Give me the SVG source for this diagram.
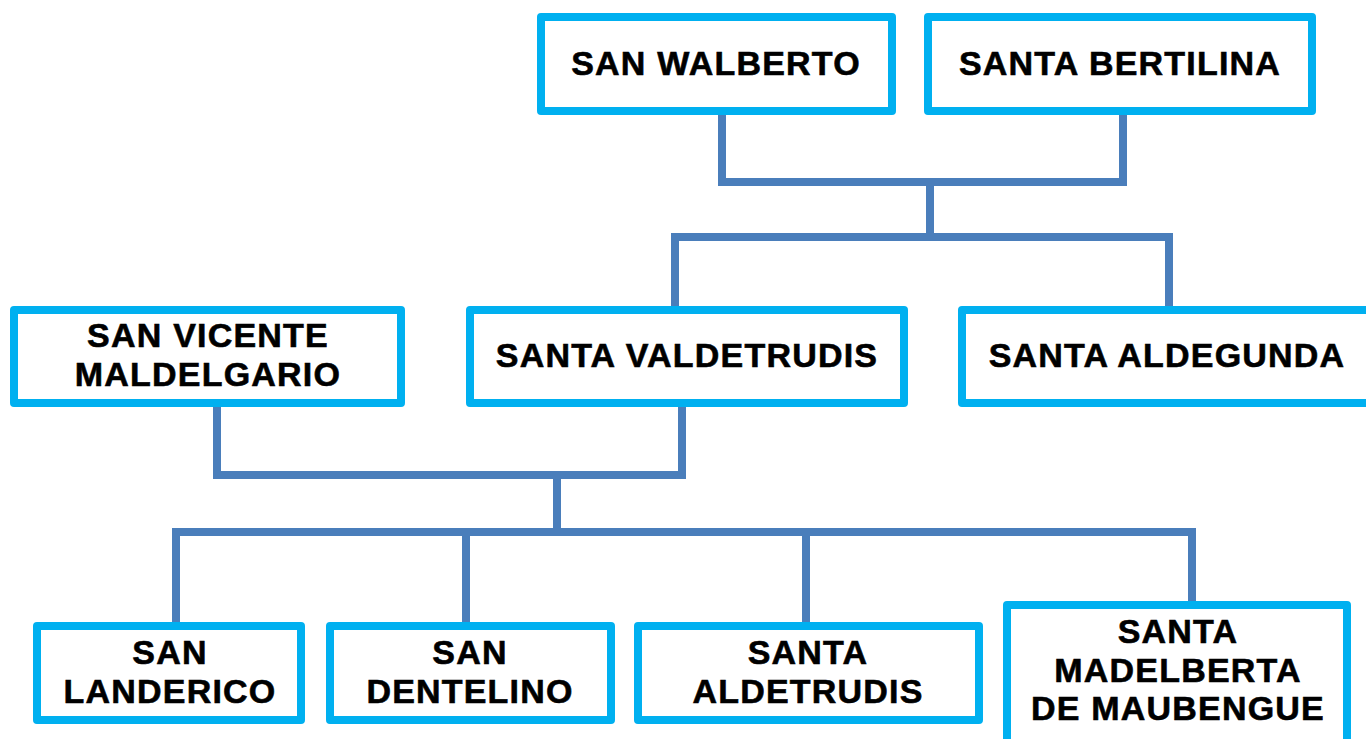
<svg xmlns="http://www.w3.org/2000/svg" width="1366" height="739" viewBox="0 0 1366 739">
<style>
.box{fill:#ffffff;stroke:#00b0f0;stroke-width:8;stroke-linejoin:round}
.lbl{font-family:"Liberation Sans",Arial,sans-serif;font-weight:bold;font-size:34px;letter-spacing:1.2px;fill:#000000;stroke:#000000;stroke-width:0.6;text-anchor:middle}
.con{fill:none;stroke:#4a7ebb;stroke-width:8;stroke-linejoin:miter;stroke-linecap:square}
</style>
<rect width="1366" height="739" fill="#ffffff"/>
<g id="connectors">
<path class="con" d="M722,115 V182 H1123 V115"/>
<path class="con" d="M930,186 V237"/>
<path class="con" d="M675,304 V237 H1169 V304"/>
<path class="con" d="M217,410 V475 H682 V410"/>
<path class="con" d="M557,479 V532"/>
<path class="con" d="M176,618 V532 H1192 V598"/>
<path class="con" d="M466,536 V620"/>
<path class="con" d="M806,536 V620"/>
</g>
<g id="san-walberto">
<rect class="box" x="541" y="17" width="351" height="94"/>
<text class="lbl" x="716" y="75">SAN WALBERTO</text>
</g>
<g id="santa-bertilina">
<rect class="box" x="928" y="17" width="384" height="94"/>
<text class="lbl" x="1120" y="75">SANTA BERTILINA</text>
</g>
<g id="san-vicente-maldelgario">
<rect class="box" x="14" y="310" width="387" height="93"/>
<text class="lbl" x="208" y="347">SAN VICENTE</text>
<text class="lbl" x="208" y="386">MALDELGARIO</text>
</g>
<g id="santa-valdetrudis">
<rect class="box" x="470" y="310" width="434" height="93"/>
<text class="lbl" x="687" y="367">SANTA VALDETRUDIS</text>
</g>
<g id="santa-aldegunda">
<rect class="box" x="962" y="310" width="411" height="93"/>
<text class="lbl" x="1167" y="367">SANTA ALDEGUNDA</text>
</g>
<g id="san-landerico">
<rect class="box" x="37" y="626" width="264" height="94"/>
<text class="lbl" x="170" y="664">SAN</text>
<text class="lbl" x="170" y="703">LANDERICO</text>
</g>
<g id="san-dentelino">
<rect class="box" x="330" y="626" width="281" height="94"/>
<text class="lbl" x="470" y="664">SAN</text>
<text class="lbl" x="470" y="703">DENTELINO</text>
</g>
<g id="santa-aldetrudis">
<rect class="box" x="638" y="626" width="341" height="94"/>
<text class="lbl" x="808" y="664">SANTA</text>
<text class="lbl" x="808" y="703">ALDETRUDIS</text>
</g>
<g id="santa-madelberta-de-maubengue">
<rect class="box" x="1007" y="605" width="340" height="140"/>
<text class="lbl" x="1178" y="643">SANTA</text>
<text class="lbl" x="1178" y="682">MADELBERTA</text>
<text class="lbl" x="1178" y="720">DE MAUBENGUE</text>
</g>
</svg>
